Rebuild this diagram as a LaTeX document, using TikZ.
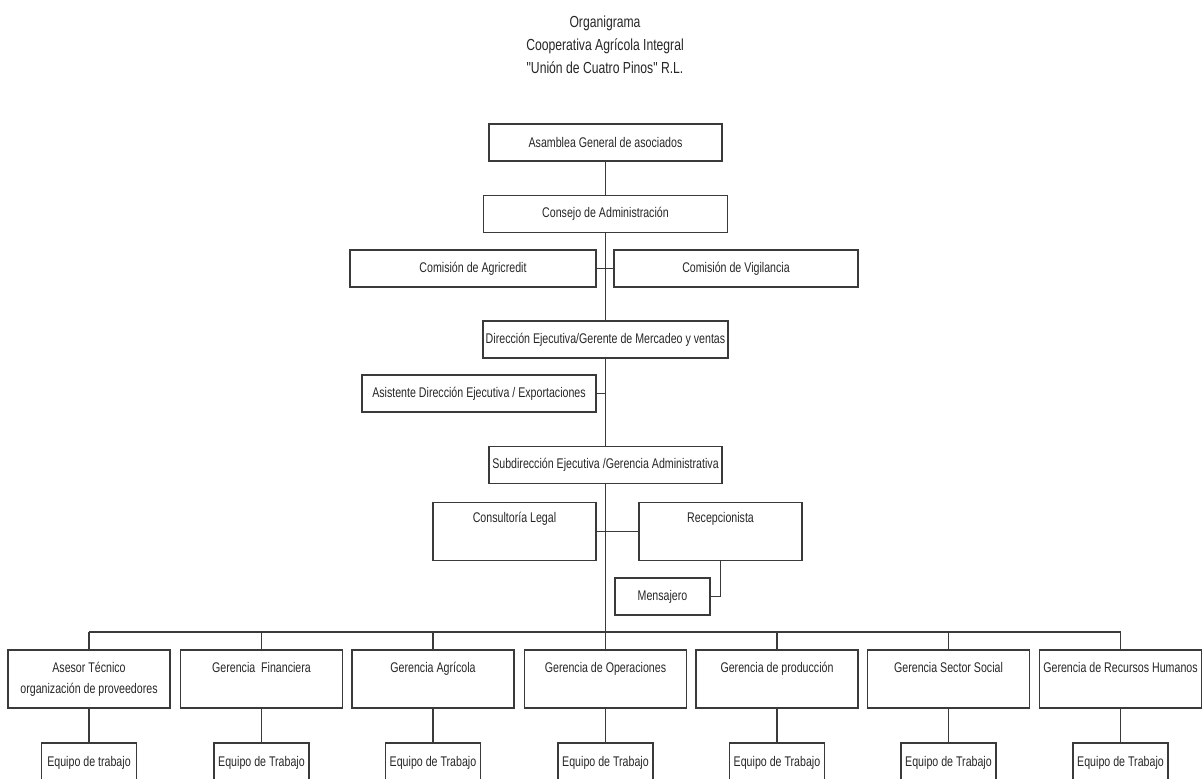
\documentclass[tikz,border=0pt]{standalone}
\usepackage{fontspec}
\setmainfont{Liberation Sans}[FakeStretch=0.76,Ligatures=TeXOff]
\usepackage{xcolor}
\usepackage{tikz}
\usetikzlibrary{positioning,calc}
\definecolor{ink}{HTML}{262626}
\definecolor{rule}{HTML}{3A3A3A}

\begin{document}
\begin{tikzpicture}[x=0.5pt,y=-0.5pt,
    box/.style={draw=rule,line width=0.7pt,inner sep=0pt,minimum height=18.5pt,
      text=ink,align=center,font=\fontsize{7}{10.5}\selectfont},
    tallbox/.style={box,minimum height=29.25pt},
    gerbox/.style={box,minimum width=81pt,minimum height=29pt},
    teambox/.style={box,minimum width=47.5pt,minimum height=20pt},
    toptxt/.style={anchor=north,inner sep=0pt,text=ink,align=center,
      font=\fontsize{7}{10.5}\selectfont},
    link/.style={draw=rule,line width=0.7pt}]
  \useasboundingbox (0,0) rectangle (1204,778);

  % titulo
  \node[text=ink,align=center,font=\fontsize{8}{11.5}\selectfont] (title) at (605,45)
    {Organigrama\\Cooperativa Agrícola Integral\\"Unión de Cuatro Pinos" R.L.};

  % direccion
  \node[box,minimum width=116.5pt] (asam) at (605.5,142.5) {Asamblea General de asociados};
  \node[box,minimum width=122pt] (consejo) at (605.5,214) {Consejo de Administración};
  \node[box,minimum width=123pt] (agri) at (473,268.5) {Comisión de Agricredit};
  \node[box,minimum width=122pt] (vigi) at (736,268.5) {Comisión de Vigilancia};
  \node[box,minimum width=122.5pt] (direc) at (605.5,339.5) {Dirección Ejecutiva/Gerente de Mercadeo y ventas};
  \node[box,minimum width=117pt] (asist) at (479,393.5) {Asistente Dirección Ejecutiva / Exportaciones};
  \node[box,minimum width=116.5pt] (subdir) at (605.5,465) {Subdirección Ejecutiva /Gerencia Administrativa};
  \node[tallbox,minimum width=81.5pt,label={[toptxt,yshift=-5pt]north:Consultoría Legal}] (legal) at (514.5,531.5) {};
  \node[tallbox,minimum width=81.5pt,label={[toptxt,yshift=-5pt]north:Recepcionista}] (recep) at (720.5,531.5) {};
  \node[box,minimum width=47.5pt] (mens) at (662.5,596.5) {Mensajero};

  % gerencias
  \node[gerbox,label={[toptxt,yshift=-6.2pt]north:Asesor Técnico\\organización de proveedores}] (ger1) at (89,679) {};
  \node[gerbox,label={[toptxt,yshift=-6.2pt]north:Gerencia\ \ Financiera}] (ger2) at (261.5,679) {};
  \node[gerbox,label={[toptxt,yshift=-6.2pt]north:Gerencia Agrícola}] (ger3) at (433,679) {};
  \node[gerbox,label={[toptxt,yshift=-6.2pt]north:Gerencia de Operaciones}] (ger4) at (605.5,679) {};
  \node[gerbox,label={[toptxt,yshift=-6.2pt]north:Gerencia de producción}] (ger5) at (777,679) {};
  \node[gerbox,label={[toptxt,yshift=-6.2pt]north:Gerencia Sector Social}] (ger6) at (948.5,679) {};
  \node[gerbox,label={[toptxt,yshift=-6.2pt]north:Gerencia de Recursos Humanos}] (ger7) at (1120.5,679) {};

  % equipos
  \node[teambox] (team1) at (89,763) {Equipo de trabajo};
  \node[teambox] (team2) at (261.5,763) {Equipo de Trabajo};
  \node[teambox] (team3) at (433,763) {Equipo de Trabajo};
  \node[teambox] (team4) at (605.5,763) {Equipo de Trabajo};
  \node[teambox] (team5) at (777,763) {Equipo de Trabajo};
  \node[teambox] (team6) at (948.5,763) {Equipo de Trabajo};
  \node[teambox] (team7) at (1120.5,763) {Equipo de Trabajo};

  \coordinate (bus) at (605.5,632);

  % lineas
  \draw[link] (asam) -- (consejo);
  \draw[link] (consejo) -- (direc);
  \draw[link] (agri) -- (vigi);
  \draw[link] (direc) -- (subdir);
  \draw[link] (asist.east) -- (asist.east -| direc.south);
  \draw[link] (subdir) -- (bus);
  \draw[link] (legal) -- (recep);
  \draw[link] (recep.south) |- (mens.east);
  \draw[link] (ger1.north |- bus) -- (ger7.north |- bus);
  \foreach \i in {1,...,7} {
    \draw[link] (ger\i.north |- bus) -- (ger\i.north);
    \draw[link] (ger\i) -- (team\i);
  }
\end{tikzpicture}
\end{document}
